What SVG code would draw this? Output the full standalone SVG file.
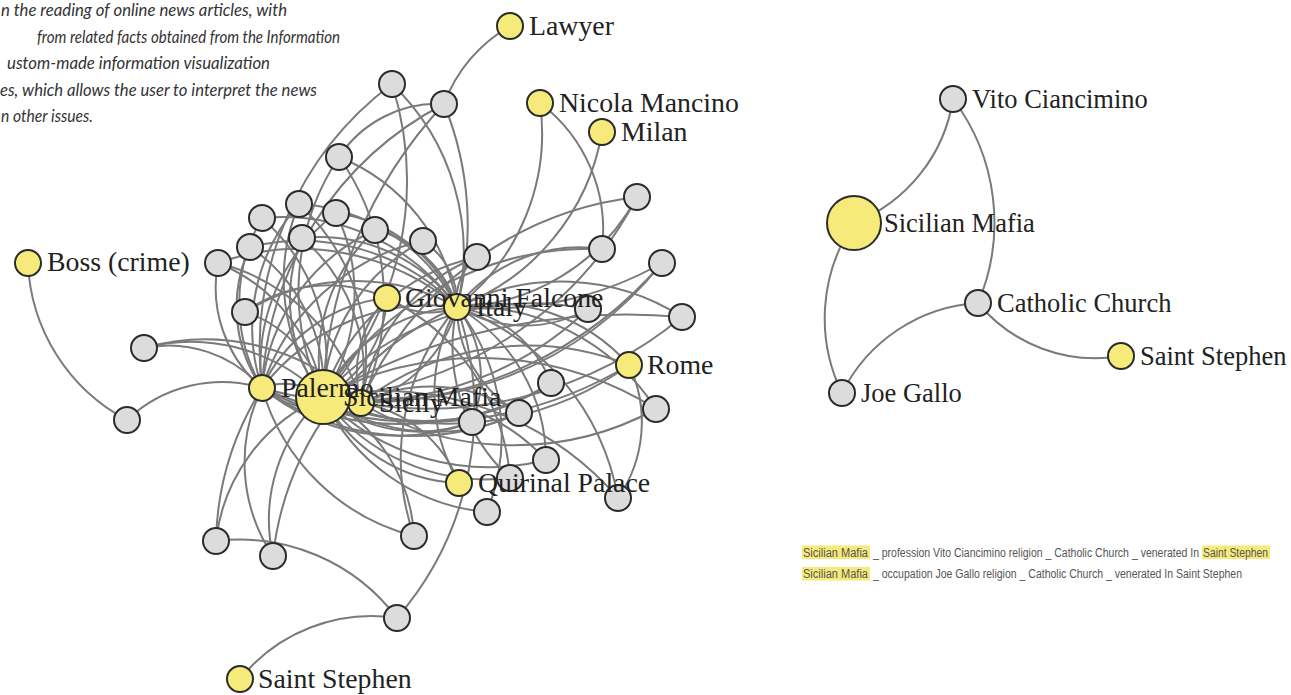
<svg xmlns="http://www.w3.org/2000/svg" width="1291" height="695" viewBox="0 0 1291 695">
<style>
.link{fill:none;stroke:#7a7a7a;stroke-width:2}
circle{stroke:#2b2b2b;stroke-width:2}
.y{fill:#f6ea7b}
.g{fill:#dcdcdc}
.lbl{font-family:"Liberation Serif","Times New Roman",serif;font-size:27.8px;fill:#222}
.rl{font-size:26.5px}
.intro{font-family:Lato,"Open Sans","Liberation Sans",sans-serif;font-style:italic;font-size:17px;fill:#333}
.path{font-family:"Liberation Sans Narrow","Liberation Sans",sans-serif;font-size:12.5px;fill:#555}
.hl{fill:#f6ea7b}
</style>
<rect width="1291" height="695" fill="#ffffff"/>
<g id="intro-text">
<text class="intro" x="1" y="16" textLength="286" lengthAdjust="spacingAndGlyphs">n the reading of online news articles, with</text>
<text class="intro" x="37" y="42.5" textLength="303" lengthAdjust="spacingAndGlyphs">from related facts obtained from the Information</text>
<text class="intro" x="7" y="69" textLength="263" lengthAdjust="spacingAndGlyphs">ustom-made information visualization</text>
<text class="intro" x="0" y="95.5" textLength="317" lengthAdjust="spacingAndGlyphs">es, which allows the user to interpret the news</text>
<text class="intro" x="1" y="122" textLength="92" lengthAdjust="spacingAndGlyphs">n other issues.</text>
</g>
<g id="connectors">
<path class="link" d="M262,388A63,63 0 0,1 323,397"/>
<path class="link" d="M323,397A38,38 0 0,1 361,403"/>
<path class="link" d="M262,388A100,100 0 0,0 361,403"/>
<path class="link" d="M387,298A70,70 0 0,0 457,307"/>
<path class="link" d="M323,397A162,162 0 0,1 457,307"/>
<path class="link" d="M361,403A136,136 0 0,0 457,307"/>
<path class="link" d="M262,388A212,212 0 0,1 457,307"/>
<path class="link" d="M262,388A155,155 0 0,1 387,298"/>
<path class="link" d="M323,397A119,119 0 0,0 387,298"/>
<path class="link" d="M361,403A108,108 0 0,1 387,298"/>
<path class="link" d="M510,26A150,150 0 0,0 444,104"/>
<path class="link" d="M444,104A339,339 0 0,0 262,388"/>
<path class="link" d="M444,104A450,450 0 0,0 323,397"/>
<path class="link" d="M444,104A320,320 0 0,1 457,307"/>
<path class="link" d="M339,157A118,118 0 0,1 444,104"/>
<path class="link" d="M392,84A331,331 0 0,0 262,388"/>
<path class="link" d="M392,84A232,232 0 0,1 457,307"/>
<path class="link" d="M392,84A321,321 0 0,1 323,397"/>
<path class="link" d="M339,157A242,242 0 0,0 323,397"/>
<path class="link" d="M339,157A247,247 0 0,1 361,403"/>
<path class="link" d="M339,157A191,191 0 0,1 457,307"/>
<path class="link" d="M299,204A189,189 0 0,1 457,307"/>
<path class="link" d="M299,204A195,195 0 0,0 323,397"/>
<path class="link" d="M299,204A188,188 0 0,0 262,388"/>
<path class="link" d="M299,204A208,208 0 0,1 361,403"/>
<path class="link" d="M262,218A214,214 0 0,1 457,307"/>
<path class="link" d="M262,218A190,190 0 0,1 323,397"/>
<path class="link" d="M262,218A170,170 0 0,0 262,388"/>
<path class="link" d="M336,213A153,153 0 0,1 457,307"/>
<path class="link" d="M336,213A190,190 0 0,0 262,388"/>
<path class="link" d="M336,213A185,185 0 0,1 323,397"/>
<path class="link" d="M302,238A170,170 0 0,1 457,307"/>
<path class="link" d="M302,238A161,161 0 0,0 323,397"/>
<path class="link" d="M302,238A175,175 0 0,1 361,403"/>
<path class="link" d="M250,247A216,216 0 0,1 457,307"/>
<path class="link" d="M250,247A168,168 0 0,1 323,397"/>
<path class="link" d="M250,247A141,141 0 0,0 262,388"/>
<path class="link" d="M375,230A112,112 0 0,1 457,307"/>
<path class="link" d="M375,230A195,195 0 0,0 262,388"/>
<path class="link" d="M375,230A176,176 0 0,0 323,397"/>
<path class="link" d="M423,241A74,74 0 0,1 457,307"/>
<path class="link" d="M423,241A186,186 0 0,0 323,397"/>
<path class="link" d="M423,241A219,219 0 0,0 262,388"/>
<path class="link" d="M218,263A243,243 0 0,1 457,307"/>
<path class="link" d="M218,263A171,171 0 0,1 323,397"/>
<path class="link" d="M218,263A132,132 0 0,0 262,388"/>
<path class="link" d="M218,263A199,199 0 0,1 361,403"/>
<path class="link" d="M477,257A54,54 0 0,0 457,307"/>
<path class="link" d="M477,257A209,209 0 0,0 323,397"/>
<path class="link" d="M477,257A187,187 0 0,0 361,403"/>
<path class="link" d="M245,312A212,212 0 0,1 457,307"/>
<path class="link" d="M245,312A116,116 0 0,1 323,397"/>
<path class="link" d="M245,312A143,143 0 0,1 387,298"/>
<path class="link" d="M144,348A124,124 0 0,1 262,388"/>
<path class="link" d="M144,348A186,186 0 0,1 323,397"/>
<path class="link" d="M144,348A223,223 0 0,1 361,403"/>
<path class="link" d="M127,420A138,138 0 0,1 262,388"/>
<path class="link" d="M28,263A186,186 0 0,0 127,420"/>
<path class="link" d="M637,197A211,211 0 0,1 457,307"/>
<path class="link" d="M637,197A373,373 0 0,1 323,397"/>
<path class="link" d="M637,197A345,345 0 0,0 361,403"/>
<path class="link" d="M602,249A156,156 0 0,0 457,307"/>
<path class="link" d="M602,249A316,316 0 0,0 323,397"/>
<path class="link" d="M540,103A159,159 0 0,1 602,249"/>
<path class="link" d="M540,103A220,220 0 0,1 457,307"/>
<path class="link" d="M602,132A227,227 0 0,1 457,307"/>
<path class="link" d="M662,263A350,350 0 0,1 457,307"/>
<path class="link" d="M662,263A365,365 0 0,1 323,397"/>
<path class="link" d="M662,263A400,400 0 0,1 361,403"/>
<path class="link" d="M588,309A131,131 0 0,1 457,307"/>
<path class="link" d="M588,309A280,280 0 0,0 323,397"/>
<path class="link" d="M588,309A336,336 0 0,1 262,388"/>
<path class="link" d="M682,317A600,600 0 0,0 323,397"/>
<path class="link" d="M682,317A225,225 0 0,0 457,307"/>
<path class="link" d="M682,317A400,400 0 0,1 361,403"/>
<path class="link" d="M629,365A182,182 0 0,0 457,307"/>
<path class="link" d="M629,365A308,308 0 0,1 323,397"/>
<path class="link" d="M629,365A272,272 0 0,0 361,403"/>
<path class="link" d="M629,365A133,133 0 0,1 618,498"/>
<path class="link" d="M629,365A400,400 0 0,1 262,388"/>
<path class="link" d="M551,383A121,121 0 0,0 457,307"/>
<path class="link" d="M551,383A228,228 0 0,1 323,397"/>
<path class="link" d="M551,383A290,290 0 0,1 262,388"/>
<path class="link" d="M656,409A224,224 0 0,0 457,307"/>
<path class="link" d="M656,409A333,333 0 0,0 323,397"/>
<path class="link" d="M656,409A297,297 0 0,1 361,403"/>
<path class="link" d="M519,413A123,123 0 0,1 457,307"/>
<path class="link" d="M519,413A197,197 0 0,1 323,397"/>
<path class="link" d="M519,413A159,159 0 0,0 361,403"/>
<path class="link" d="M519,413A259,259 0 0,1 262,388"/>
<path class="link" d="M472,422A116,116 0 0,0 457,307"/>
<path class="link" d="M472,422A151,151 0 0,1 323,397"/>
<path class="link" d="M472,422A214,214 0 0,1 262,388"/>
<path class="link" d="M546,460A177,177 0 0,0 457,307"/>
<path class="link" d="M546,460A231,231 0 0,1 323,397"/>
<path class="link" d="M546,460A190,190 0 0,0 361,403"/>
<path class="link" d="M510,478A179,179 0 0,1 457,307"/>
<path class="link" d="M510,478A203,203 0 0,1 323,397"/>
<path class="link" d="M510,478A218,218 0 0,0 387,298"/>
<path class="link" d="M618,498A250,250 0 0,0 457,307"/>
<path class="link" d="M618,498A311,311 0 0,0 323,397"/>
<path class="link" d="M487,512A207,207 0 0,0 457,307"/>
<path class="link" d="M487,512A200,200 0 0,1 323,397"/>
<path class="link" d="M459,483A176,176 0 0,1 457,307"/>
<path class="link" d="M459,483A160,160 0 0,1 323,397"/>
<path class="link" d="M459,483A127,127 0 0,0 361,403"/>
<path class="link" d="M414,536A233,233 0 0,1 457,307"/>
<path class="link" d="M414,536A165,165 0 0,0 323,397"/>
<path class="link" d="M414,536A213,213 0 0,1 262,388"/>
<path class="link" d="M216,541A300,300 0 0,1 262,388"/>
<path class="link" d="M216,541A178,178 0 0,1 323,397"/>
<path class="link" d="M216,541A197,197 0 0,1 397,618"/>
<path class="link" d="M273,556A168,168 0 0,1 262,388"/>
<path class="link" d="M273,556A166,166 0 0,1 323,397"/>
<path class="link" d="M273,556A310,310 0 0,1 457,307"/>
<path class="link" d="M240,679A169,169 0 0,1 397,618"/>
<path class="link" d="M397,618A317,317 0 0,0 457,307"/>
<path class="link" d="M953,99A159,159 0 0,1 854,223"/>
<path class="link" d="M953,99A205,205 0 0,1 978,303"/>
<path class="link" d="M854,223A170,170 0 0,0 842,393"/>
<path class="link" d="M842,393A163,163 0 0,1 978,303"/>
<path class="link" d="M978,303A152,152 0 0,0 1121,356"/>
</g>
<g id="node-g1"><circle class="g" cx="392" cy="84" r="13"/></g>
<g id="node-g2"><circle class="g" cx="444" cy="104" r="13"/></g>
<g id="node-g3"><circle class="g" cx="339" cy="157" r="13"/></g>
<g id="node-g4"><circle class="g" cx="299" cy="204" r="13"/></g>
<g id="node-g5"><circle class="g" cx="262" cy="218" r="13"/></g>
<g id="node-g6"><circle class="g" cx="336" cy="213" r="13"/></g>
<g id="node-g7"><circle class="g" cx="302" cy="238" r="13"/></g>
<g id="node-g8"><circle class="g" cx="250" cy="247" r="13"/></g>
<g id="node-g9"><circle class="g" cx="375" cy="230" r="13"/></g>
<g id="node-g10"><circle class="g" cx="423" cy="241" r="13"/></g>
<g id="node-g11"><circle class="g" cx="218" cy="263" r="13"/></g>
<g id="node-g12"><circle class="g" cx="477" cy="257" r="13"/></g>
<g id="node-g13"><circle class="g" cx="245" cy="312" r="13"/></g>
<g id="node-g14"><circle class="g" cx="144" cy="348" r="13"/></g>
<g id="node-g15"><circle class="g" cx="127" cy="420" r="13"/></g>
<g id="node-g16"><circle class="g" cx="637" cy="197" r="13"/></g>
<g id="node-g17"><circle class="g" cx="602" cy="249" r="13"/></g>
<g id="node-g18"><circle class="g" cx="662" cy="263" r="13"/></g>
<g id="node-g19"><circle class="g" cx="588" cy="309" r="13"/></g>
<g id="node-g20"><circle class="g" cx="682" cy="317" r="13"/></g>
<g id="node-g21"><circle class="g" cx="551" cy="383" r="13"/></g>
<g id="node-g22"><circle class="g" cx="656" cy="409" r="13"/></g>
<g id="node-g23"><circle class="g" cx="519" cy="413" r="13"/></g>
<g id="node-g24"><circle class="g" cx="472" cy="422" r="13"/></g>
<g id="node-g25"><circle class="g" cx="546" cy="460" r="13"/></g>
<g id="node-g26"><circle class="g" cx="510" cy="478" r="13"/></g>
<g id="node-g27"><circle class="g" cx="618" cy="498" r="13"/></g>
<g id="node-g28"><circle class="g" cx="487" cy="512" r="13"/></g>
<g id="node-g29"><circle class="g" cx="414" cy="536" r="13"/></g>
<g id="node-g30"><circle class="g" cx="216" cy="541" r="13"/></g>
<g id="node-g31"><circle class="g" cx="273" cy="556" r="13"/></g>
<g id="node-g32"><circle class="g" cx="397" cy="618" r="13"/></g>
<g id="node-lawyer"><circle class="y" cx="510" cy="26" r="13"/><text class="lbl" x="529" y="35">Lawyer</text></g>
<g id="node-nicola-mancino"><circle class="y" cx="540" cy="103" r="13"/><text class="lbl" x="559" y="112">Nicola Mancino</text></g>
<g id="node-milan"><circle class="y" cx="602" cy="132" r="13"/><text class="lbl" x="621" y="141">Milan</text></g>
<g id="node-boss"><circle class="y" cx="28" cy="263" r="13"/><text class="lbl" x="47" y="271">Boss (crime)</text></g>
<g id="node-rome"><circle class="y" cx="629" cy="365" r="13"/><text class="lbl" x="647" y="374">Rome</text></g>
<g id="node-quirinal"><circle class="y" cx="459" cy="483" r="13"/><text class="lbl" x="478" y="492">Quirinal Palace</text></g>
<g id="node-saint-stephen-left"><circle class="y" cx="240" cy="679" r="13"/><text class="lbl" x="258" y="688">Saint Stephen</text></g>
<g id="node-sicily"><circle class="y" cx="361" cy="403" r="13"/><text class="lbl" x="379" y="412">Sicily</text></g>
<g id="node-sicilian-mafia"><circle class="y" cx="323" cy="397" r="27"/><text class="lbl" x="343" y="406">Sicilian Mafia</text></g>
<g id="node-palermo"><circle class="y" cx="262" cy="388" r="13"/><text class="lbl" x="281" y="397">Palermo</text></g>
<g id="node-italy"><circle class="y" cx="457" cy="307" r="13"/><text class="lbl" x="476" y="316">Italy</text></g>
<g id="node-giovanni-falcone"><circle class="y" cx="387" cy="298" r="13"/><text class="lbl" x="405" y="307">Giovanni Falcone</text></g>
<g id="node-r-vito"><circle class="g" cx="953" cy="99" r="13"/><text class="lbl rl" x="972" y="108">Vito Ciancimino</text></g>
<g id="node-r-sicilian-mafia"><circle class="y" cx="854" cy="223" r="27"/><text class="lbl rl" x="884" y="232">Sicilian Mafia</text></g>
<g id="node-r-catholic"><circle class="g" cx="978" cy="303" r="13"/><text class="lbl rl" x="997" y="312">Catholic Church</text></g>
<g id="node-r-saint-stephen"><circle class="y" cx="1121" cy="356" r="13"/><text class="lbl rl" x="1140" y="365">Saint Stephen</text></g>
<g id="node-r-joe-gallo"><circle class="g" cx="842" cy="393" r="13"/><text class="lbl rl" x="861" y="402">Joe Gallo</text></g>
<g id="paths-text">
<rect class="hl" x="802" y="545.5" width="68" height="13.5"/>
<rect class="hl" x="1202" y="545.5" width="68" height="13.5"/>
<rect class="hl" x="802" y="567" width="68" height="13.5"/>
<text class="path" x="803" y="556.5" textLength="65" lengthAdjust="spacingAndGlyphs">Sicilian Mafia</text>
<text class="path" x="873" y="556.5" textLength="326" lengthAdjust="spacingAndGlyphs">_ profession Vito Ciancimino religion _ Catholic Church _ venerated In</text>
<text class="path" x="1203" y="556.5" textLength="65" lengthAdjust="spacingAndGlyphs">Saint Stephen</text>
<text class="path" x="803" y="578" textLength="65" lengthAdjust="spacingAndGlyphs">Sicilian Mafia</text>
<text class="path" x="873" y="578" textLength="369" lengthAdjust="spacingAndGlyphs">_ occupation Joe Gallo religion _ Catholic Church _ venerated In Saint Stephen</text>
</g>
</svg>
